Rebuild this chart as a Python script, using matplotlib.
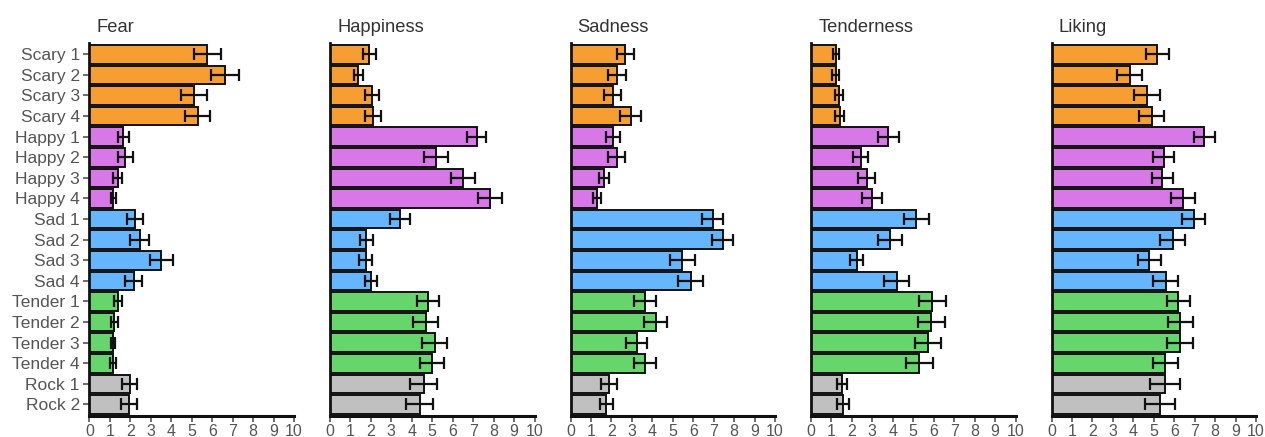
import matplotlib
matplotlib.use("Agg")
import matplotlib.pyplot as plt
import numpy as np

plt.rcParams["font.family"] = ["Liberation Sans", "DejaVu Sans"]

stimuli = ["Scary 1", "Scary 2", "Scary 3", "Scary 4",
           "Happy 1", "Happy 2", "Happy 3", "Happy 4",
           "Sad 1", "Sad 2", "Sad 3", "Sad 4",
           "Tender 1", "Tender 2", "Tender 3", "Tender 4",
           "Rock 1", "Rock 2"]
groups = ["Scary"] * 4 + ["Happy"] * 4 + ["Sad"] * 4 + ["Tender"] * 4 + ["Rock"] * 2

scales = ["Fear", "Happiness", "Sadness", "Tenderness", "Liking"]

fear_mean = [5.76, 6.62, 5.11, 5.29, 1.66, 1.75, 1.37, 1.16, 2.22, 2.46,
             3.51, 2.17, 1.39, 1.22, 1.14, 1.17, 1.96, 1.91]
fear_err = [0.65, 0.69, 0.64, 0.61, 0.28, 0.37, 0.24, 0.13, 0.38, 0.46,
            0.57, 0.42, 0.19, 0.16, 0.10, 0.15, 0.37, 0.39]

happiness_mean = [1.93, 1.39, 2.06, 2.10, 7.18, 5.19, 6.49, 7.83, 3.41, 1.78,
                  1.75, 2.01, 4.80, 4.68, 5.12, 4.98, 4.58, 4.39]
happiness_err = [0.34, 0.23, 0.35, 0.37, 0.47, 0.59, 0.58, 0.57, 0.50, 0.31,
                 0.32, 0.30, 0.53, 0.62, 0.61, 0.59, 0.66, 0.65]

sadness_mean = [2.68, 2.27, 2.06, 2.95, 2.09, 2.25, 1.63, 1.31, 6.95, 7.44,
                5.47, 5.87, 3.64, 4.16, 3.23, 3.64, 1.88, 1.76]
sadness_err = [0.42, 0.42, 0.41, 0.51, 0.34, 0.41, 0.25, 0.20, 0.53, 0.52,
               0.61, 0.60, 0.55, 0.56, 0.52, 0.54, 0.37, 0.32]

tenderness_mean = [1.22, 1.22, 1.35, 1.40, 3.78, 2.43, 2.72, 2.97, 5.15, 3.87,
                   2.23, 4.19, 5.94, 5.89, 5.73, 5.30, 1.52, 1.57]
tenderness_err = [0.13, 0.17, 0.20, 0.23, 0.51, 0.38, 0.43, 0.49, 0.60, 0.57,
                  0.32, 0.62, 0.64, 0.67, 0.65, 0.65, 0.26, 0.28]

liking_mean = [5.18, 3.82, 4.67, 4.89, 7.48, 5.49, 5.41, 6.44, 6.96, 5.93,
               4.79, 5.59, 6.21, 6.29, 6.29, 5.57, 5.56, 5.29]
liking_err = [0.58, 0.61, 0.63, 0.61, 0.52, 0.52, 0.52, 0.59, 0.56, 0.61,
              0.56, 0.61, 0.57, 0.61, 0.63, 0.62, 0.72, 0.73]

means = [fear_mean, happiness_mean, sadness_mean, tenderness_mean, liking_mean]
errors = [fear_err, happiness_err, sadness_err, tenderness_err, liking_err]

group_colors = {"Scary": "#F79E33", "Happy": "#D878E8", "Sad": "#66B6FF",
                "Tender": "#66D56B", "Rock": "#C0C0C0"}
colors = [group_colors[g] for g in groups]

fig = plt.figure(figsize=(12.65, 4.37), dpi=100)

W, H = 1265, 437
left0 = 89.5
pitch = 240.5
ax_w = 204.5
ax_top = 42.7
ax_bot = 416.0

y = np.arange(len(stimuli))

for i, (name, m, e) in enumerate(zip(scales, means, errors)):
    left = (left0 + i * pitch) / W
    ax = fig.add_axes([left, (H - ax_bot) / H, ax_w / W, (ax_bot - ax_top) / H])
    ax.barh(y, m, height=0.9, color=colors, edgecolor="#111111",
            linewidth=1.4, zorder=2)
    ax.errorbar(m, y, xerr=e, fmt="none", ecolor="#111111", elinewidth=1.6,
                capsize=4.5, capthick=1.6, zorder=3)
    ax.set_xlim(0, 10)
    ax.set_ylim(17.56, -0.56)
    ax.set_xticks(np.arange(0, 11, 1))
    ax.set_yticks(y)
    if i == 0:
        ax.set_yticklabels(stimuli, fontsize=12.5, color="#555555")
    else:
        ax.set_yticklabels([])
        ax.tick_params(axis="y", length=0)
    ax.tick_params(axis="x", labelsize=11.5, labelcolor="#555555",
                   length=4, width=1.2, color="#555555", pad=1.5)
    ax.tick_params(axis="y", width=1.2, color="#555555", pad=3)
    if i == 0:
        ax.tick_params(axis="y", length=4)
    for side in ("top", "right"):
        ax.spines[side].set_visible(False)
    ax.spines["left"].set_linewidth(2.0)
    ax.spines["bottom"].set_linewidth(2.2)
    ax.spines["left"].set_color("#111111")
    ax.spines["bottom"].set_color("#111111")
    ax.set_title(name, loc="left", fontsize=13.2, color="#333333", pad=8,
                 x=0.035)

fig.savefig("out.png", dpi=100)
